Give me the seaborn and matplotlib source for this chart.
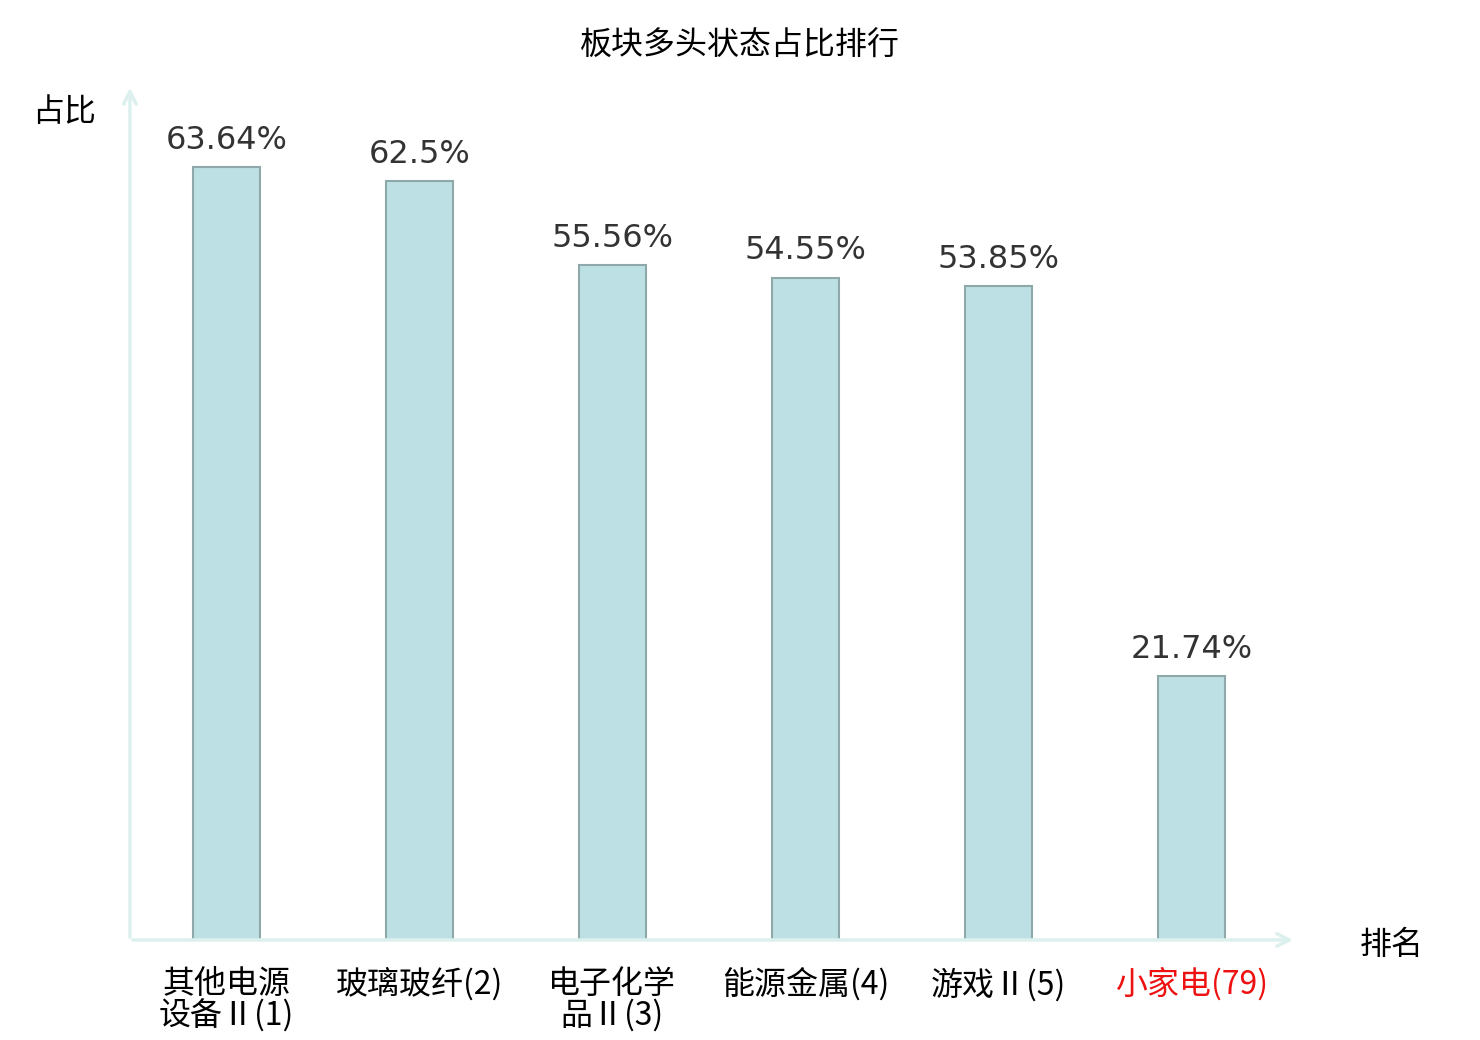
import matplotlib
matplotlib.use("Agg")
import matplotlib.pyplot as plt
import seaborn as sns
import pandas as pd

categories = ["其他电源\n设备Ⅱ(1)", "玻璃玻纤(2)", "电子化学\n品Ⅱ(3)", "能源金属(4)", "游戏Ⅱ(5)", "小家电(79)"]
values = [63.64, 62.5, 55.56, 54.55, 53.85, 21.74]
value_labels = ["63.64%", "62.5%", "55.56%", "54.55%", "53.85%", "21.74%"]

df = pd.DataFrame({"cat": categories, "val": values})

sns.set_style("white")
plt.rcParams['font.family'] = ['Noto Sans CJK SC', 'DejaVu Sans']

fig = plt.figure(figsize=(14.8, 10.4), dpi=100)
ax = fig.add_axes([0.0878, 0.0962, 0.7824, 0.8173])

sns.barplot(data=df, x="cat", y="val", ax=ax, width=0.35, color="#bce0e3",
            edgecolor="#8fa9aa", linewidth=1.5, saturation=1)

ax.set_xlim(-0.5, 5.5)
ax.set_ylim(0, 70)
for s in ax.spines.values():
    s.set_visible(False)
ax.set_yticks([])
ax.set_xlabel("")
ax.set_ylabel("")
ax.tick_params(axis="x", length=0, pad=20)
ax.set_xticks(range(len(categories)))
ax.set_xticklabels(categories, fontsize=23, linespacing=0.97, color="black")
for t in ax.get_xticklabels()[-1:]:
    t.set_color("#ee1111")

# value labels
for i, (v, lab) in enumerate(zip(values, value_labels)):
    ax.annotate(lab, (i, v), xytext=(0, 8), textcoords="offset points",
                ha="center", va="bottom", fontsize=23, color="#333333",
                family="DejaVu Sans")

# axis arrows
arrow_col = "#dcf1ee"
ax.annotate("", xy=(1.007, 0), xytext=(0, 0), xycoords="axes fraction",
            arrowprops=dict(arrowstyle="->,head_length=0.9,head_width=0.45",
                            color=arrow_col, lw=2.5))
ax.annotate("", xy=(0, 1.006), xytext=(0, 0), xycoords="axes fraction",
            arrowprops=dict(arrowstyle="->,head_length=0.9,head_width=0.45",
                            color=arrow_col, lw=2.5))

fig.text(0.5, 0.956, "板块多头状态占比排行", ha="center", va="center", fontsize=23, color="black")
fig.text(0.043, 0.892, "占比", ha="center", va="center", fontsize=23, color="black")
fig.text(0.94, 0.091, "排名", ha="center", va="center", fontsize=23, color="black")

fig.savefig("out.png", dpi=100)
